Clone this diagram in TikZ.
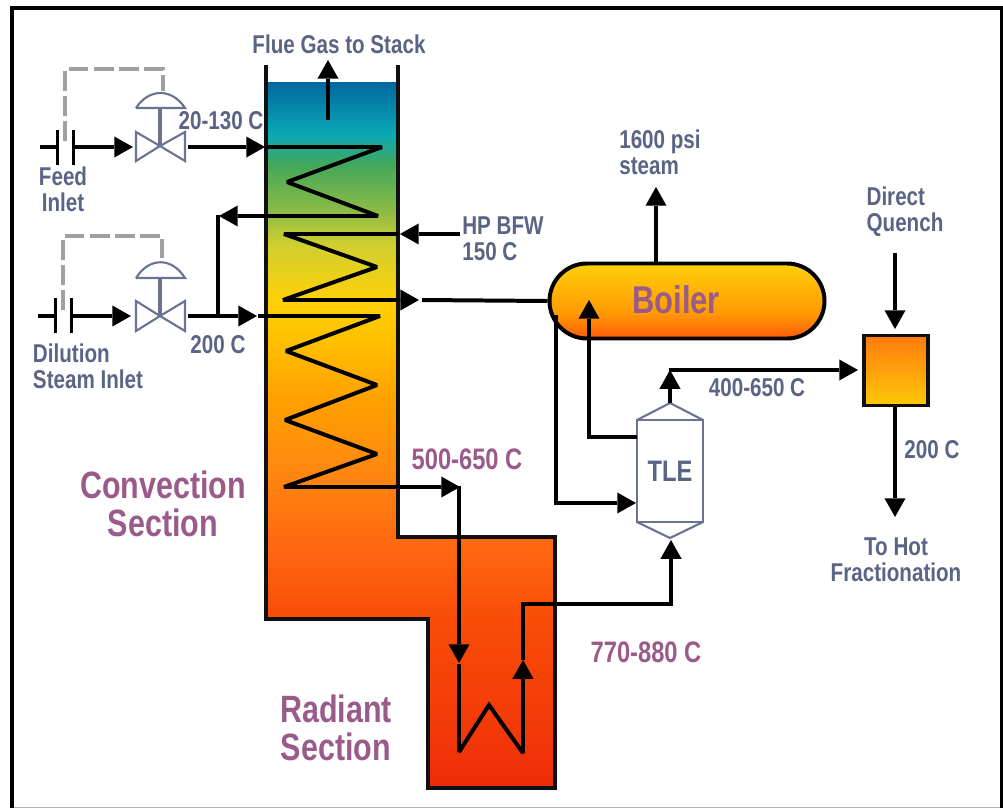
\documentclass[tikz,border=0pt]{standalone}
\usepackage{fontspec}
\setmainfont[FakeStretch=0.8]{Liberation Sans}
\usetikzlibrary{arrows.meta, shapes.misc}

\definecolor{slatetext}{HTML}{5A6485}
\definecolor{purpletext}{HTML}{9A5A8A}
\definecolor{valveline}{HTML}{6A7392}
\definecolor{signalgray}{HTML}{A0A0A0}
\definecolor{boxline}{HTML}{101010}
\definecolor{heata}{HTML}{EE2C08}
\definecolor{heatb}{HTML}{F43F08}
\definecolor{heatc}{HTML}{F84C08}
\definecolor{heatd}{HTML}{FF6610}
\definecolor{heate}{HTML}{FF8810}
\definecolor{heatf}{HTML}{FFA000}
\definecolor{heatg}{HTML}{FFC000}
\definecolor{heath}{HTML}{FFD008}
\definecolor{heati}{HTML}{D0CF30}
\definecolor{heatj}{HTML}{8BBB45}
\definecolor{heatk}{HTML}{45A85A}
\definecolor{heatl}{HTML}{0AA8B5}
\definecolor{heatm}{HTML}{0068A0}
\definecolor{boilerlow}{HTML}{FF5A08}
\definecolor{boilermid}{HTML}{FF9A04}
\definecolor{quenchtop}{HTML}{FF7A10}
\definecolor{quenchlow}{HTML}{FFC808}

% 100bp high: the picture's furnace runs from 75bp (top) to 25bp (foot)
\pgfdeclareverticalshading{furnacefill}{100bp}{
  color(0bp)=(heata);
  color(25bp)=(heata);
  color(31.2bp)=(heatb);
  color(36.9bp)=(heatc);
  color(41.9bp)=(heatd);
  color(47.5bp)=(heate);
  color(52.5bp)=(heatf);
  color(56.7bp)=(heatg);
  color(59.6bp)=(heath);
  color(63.5bp)=(heati);
  color(65.9bp)=(heatj);
  color(69.1bp)=(heatk);
  color(71.3bp)=(heatl);
  color(75bp)=(heatm);
  color(100bp)=(heatm)}
\pgfdeclareverticalshading{boilerfill}{100bp}{
  color(0bp)=(boilerlow);
  color(25bp)=(boilerlow);
  color(42bp)=(boilermid);
  color(75bp)=(heath);
  color(100bp)=(heath)}
\pgfdeclareverticalshading{quenchfill}{100bp}{
  color(0bp)=(quenchlow);
  color(25bp)=(quenchlow);
  color(75bp)=(quenchtop);
  color(100bp)=(quenchtop)}

\tikzset{
  pipe/.style={line width=3.4pt, black, line join=miter, miter limit=2},
  flow/.style={pipe, -{Triangle[length=16pt, width=18pt, line width=0pt]}},
  wall/.style={line width=3.4pt, boxline},
  signal/.style={line width=3.4pt, signalgray, dash pattern=on 17pt off 4.5pt},
  valvepart/.style={line width=1.8pt, valveline, line join=miter},
  slatelabel/.style={text=slatetext, font=\bfseries\fontsize{22}{22}\selectfont, align=center, inner sep=0pt},
  templabel/.style={text=purpletext, font=\bfseries\fontsize{25.3}{26}\selectfont, align=center, inner sep=0pt},
  sectionlabel/.style={text=purpletext, font=\bfseries\fontsize{32.5}{32.5}\selectfont, align=center, inner sep=0pt}
}

\begin{document}
\begin{tikzpicture}[x=0.03cm, y=-0.03cm]
  \useasboundingbox (0, 0) rectangle (1003, 808);
  % frame
  \fill[white] (0, 0) rectangle (1003, 808);
  \draw[line width=0.8pt, gray!60] (14, 807.2) -- (1000, 807.2);
  \draw[line width=3.4pt] (12, 808) -- (12, 8) -- (1002, 8) -- (1002, 808);

  % furnace
  \fill[shading=furnacefill] (266, 82) -- (398, 82) -- (398, 537) -- (555, 537)
    -- (555, 788) -- (428, 788) -- (428, 619) -- (266, 619) -- cycle;
  \draw[wall] (266, 65) -- (266, 619) -- (428, 619) -- (428, 788) -- (555, 788)
    -- (555, 537) -- (398, 537) -- (398, 65);

  % equipment
  \node[draw=black, line width=3.4pt, shape=rounded rectangle, shading=boilerfill,
    minimum width=8.25cm, minimum height=2.25cm, inner sep=0pt] (boiler) at (687, 301) {};
  \node[text=purpletext, font=\bfseries\fontsize{33}{33}\selectfont, inner sep=0pt] (boilertext) at (676, 300) {Boiler};
  \node[draw=boxline, line width=3.4pt, shading=quenchfill,
    minimum width=1.9cm, minimum height=2.1cm, inner sep=0pt] (quench) at (896, 370.5) {};

  \coordinate (tlenw) at (637, 420);
  \coordinate (tlene) at (703, 420);
  \coordinate (tlesw) at (637, 522);
  \coordinate (tlese) at (703, 522);
  \coordinate (tletop) at (670, 403);
  \coordinate (tlebot) at (670, 538);
  \draw[valvepart] (tlenw) -- (tlene) -- (tlese) -- (tlesw) -- cycle;
  \draw[valvepart] (tlenw) -- (tletop) -- (tlene);
  \draw[valvepart] (tlesw) -- (tlebot) -- (tlese);
  \node[slatelabel, font=\bfseries\fontsize{25.3}{26}\selectfont] (tletext) at (670, 471) {TLE};

  % feed side
  \coordinate (feedend) at (40, 147);
  \coordinate (feedbara) at (57.5, 147);
  \coordinate (feedbarb) at (73.5, 147);
  \coordinate (feedv) at (160, 146);
  \draw[pipe] (feedend) -- (feedbara);
  \draw[pipe] (57.5, 130) -- (57.5, 165);
  \draw[pipe] (73.5, 130) -- (73.5, 165);
  \draw[flow] (feedbarb) -- (133, 147);
  \draw[valvepart] (feedv) -- (136, 132) -- (136, 161) -- cycle;
  \draw[valvepart] (feedv) -- (185, 132) -- (185, 161) -- cycle;
  \draw[valvepart, line width=3pt] (feedv) -- (160, 108);
  \draw[valvepart] (136, 108) -- (185, 108) .. controls (172, 88) and (149, 88) .. (136, 108);
  \draw[signal] (65, 141) -- (65, 69) -- (163, 69) -- (163, 91);

  % dilution side
  \coordinate (dilend) at (38, 316);
  \coordinate (dilbara) at (55.5, 316);
  \coordinate (dilbarb) at (71.5, 316);
  \coordinate (dilv) at (160, 316);
  \draw[pipe] (dilend) -- (dilbara);
  \draw[pipe] (55.5, 298) -- (55.5, 333);
  \draw[pipe] (71.5, 298) -- (71.5, 333);
  \draw[flow] (dilbarb) -- (131, 316);
  \draw[valvepart] (dilv) -- (136, 301) -- (136, 331) -- cycle;
  \draw[valvepart] (dilv) -- (185, 301) -- (185, 331) -- cycle;
  \draw[valvepart, line width=3pt] (dilv) -- (160, 278);
  \draw[valvepart] (136, 278) -- (185, 278) .. controls (172, 257) and (149, 257) .. (136, 278);
  \draw[signal] (63, 310) -- (63, 236) -- (162, 236) -- (162, 258);

  % coils
  \draw[flow] (188, 147) -- (265, 147);
  \draw[flow] (266, 147) -- (382, 147) -- (287, 182) -- (378, 216) -- (219, 216);
  \draw[pipe] (218, 316) -- (218, 214.5);
  \draw[flow] (188, 316) -- (257, 316);
  \draw[flow] (460, 234) -- (400, 234);
  \draw[flow] (398, 234) -- (284, 234) -- (377, 267) -- (283, 300) -- (419, 300);
  \draw[pipe] (422, 300) -- (boiler.west);
  \draw[flow] (258, 316) -- (380, 316) -- (286, 351) -- (377, 385) -- (285, 420)
    -- (377, 454) -- (284, 487) -- (460, 487);
  \draw[flow] (459, 485.5) -- (459, 663);
  \draw[flow] (459, 664) -- (459, 752) -- (489, 705) -- (523, 753) -- (523, 660);
  \draw[flow] (523, 660) -- (523, 604) -- (671, 604) -- (671, 540);

  % boiler and TLE
  \draw[flow] (656, 262) -- (656, 187);
  \draw[pipe] (556, 315) -- (556, 503) -- (600, 503);
  \draw[flow] (590, 503) -- (636, 503);
  \draw[flow] (637, 437) -- (589, 437) -- (589, 300);
  \draw[flow] (tletop) -- (670, 370);
  \draw[flow] (668.5, 370) -- (858, 370);
  \draw[flow] (895, 253) -- (895, 329);
  \draw[flow] (895, 407) -- (895, 517);
  \draw[flow] (328, 120) -- (328, 60);

  % labels
  \node[slatelabel] (flue) at (339, 44) {Flue Gas to Stack};
  \node[slatelabel] (feedtemp) at (221, 121) {20-130 C};
  \node[slatelabel] (feedtext) at (63, 189) {Feed\\Inlet};
  \node[slatelabel] (diltemp) at (218, 345) {200 C};
  \node[slatelabel, align=left] (diltext) at (88, 366) {Dilution\\Steam Inlet};
  \node[slatelabel, align=left] (bfw) at (503, 239) {HP BFW\\150 C};
  \node[slatelabel, align=left] (steam) at (660, 152) {1600 psi\\steam};
  \node[slatelabel, align=left] (directq) at (905, 211.5) {Direct\\Quench};
  \node[slatelabel] (hottemp) at (757, 388) {400-650 C};
  \node[slatelabel] (quenchtemp) at (932, 450) {200 C};
  \node[slatelabel] (hotfrac) at (896, 560) {To Hot\\Fractionation};
  \node[templabel] (crosstemp) at (467, 459) {500-650 C};
  \node[templabel] (radtemp) at (646, 652) {770-880 C};
  \node[sectionlabel] (convection) at (163, 504) {Convection\\Section};
  \node[sectionlabel] (radiant) at (336, 728) {Radiant\\Section};
\end{tikzpicture}
\end{document}
